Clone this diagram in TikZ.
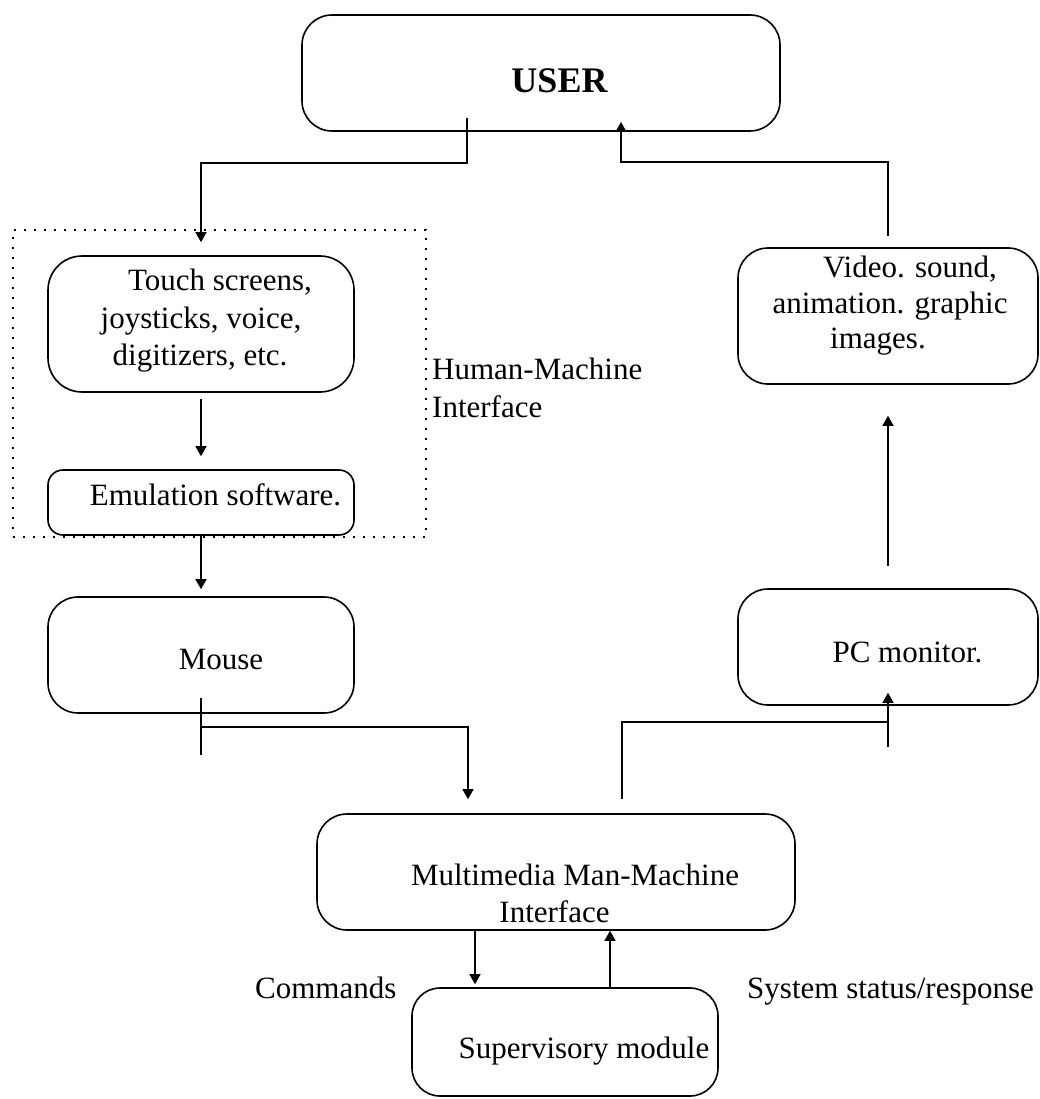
\documentclass[tikz,border=0pt]{standalone}
\usepackage{fontspec}
\setmainfont{Liberation Serif}
\usetikzlibrary{arrows.meta}
\begin{document}
\begin{tikzpicture}[x=1pt,y=-1pt,
  box/.style n args={3}{draw, line width=1.6pt, rounded corners=#3, minimum width=#1, minimum height=#2, inner sep=0pt},
  txt/.style={font=\fontsize{31}{37}\selectfont, inner sep=0pt, anchor=base},
  ltxt/.style={font=\fontsize{31}{37}\selectfont, inner sep=0pt, anchor=base west},
  line/.style={line width=1.3pt},
  conn/.style={line width=1.3pt, -{Triangle[width=11pt,length=10pt]}},
  hmibox/.style={draw, line width=1.6pt, dash pattern=on 1.6pt off 8.4pt, minimum width=413pt, minimum height=307pt, inner sep=0pt}
]
\fill[white] (0,0) rectangle (1039,1099);
\useasboundingbox (0,0) rectangle (1039,1099);

% dotted human-machine interface frame
\node[hmibox] (hmi) at (219.5,383.5) {};

% boxes
\node[box={478pt}{116pt}{30pt}] (user)  at (541,73) {};
\node[box={306pt}{136pt}{34pt}] (touch) at (201,324) {};
\node[box={306pt}{65pt}{15pt}]  (emul)  at (201,502.5) {};
\node[box={306pt}{116pt}{30pt}] (mouse) at (201,655) {};
\node[box={300pt}{136pt}{30pt}] (video) at (888,316) {};
\node[box={300pt}{116pt}{30pt}] (pc)    at (888,647) {};
\node[box={478pt}{116pt}{30pt}] (mm)    at (556,872) {};
\node[box={306pt}{108pt}{28pt}] (sup)   at (565,1042) {};

% texts
\node[txt, font=\fontsize{36}{40}\selectfont\bfseries] (userT) at (559.5,93) {USER};
\node[txt] (touchT1) at (220,290) {Touch screens,};
\node[txt] (touchT2) at (201,328) {joysticks, voice,};
\node[txt] (touchT3) at (200,365) {digitizers, etc.};
\node[txt] (emulT) at (215.5,505) {Emulation software.};
\node[txt] (mouseT) at (221,669) {Mouse};
\node[txt] (videoT1) at (910,277) {Video. sound,};
\node[txt] (videoT2) at (890,313) {animation. graphic};
\node[txt] (videoT3) at (878,348) {images.};
\node[ltxt] (hmiT1) at (432,379) {Human-Machine};
\node[ltxt] (hmiT2) at (432,417) {Interface};
\node[txt] (pcT) at (907.5,662) {PC monitor.};
\node[txt] (mmT1) at (575,885) {Multimedia Man-Machine};
\node[txt] (mmT2) at (554.5,922) {Interface};
\node[ltxt] (cmdT) at (255,998) {Commands};
\node[ltxt] (stsT) at (747,998) {System status/response};
\node[txt] (supT) at (584,1058) {Supervisory module};

% helper coordinates
\coordinate (u1) at (467,118);
\coordinate (uin) at (621,122);
\coordinate (m1) at (201,698);
\coordinate (m2) at (201,755);
\coordinate (mmx) at (468,0);
\coordinate (mmo) at (622,799);
\coordinate (cmd) at (475,0);
\coordinate (sts) at (610,0);

% connectors
\draw[conn] (u1) -- (467,163) -| ([yshift=13pt]touch.north);
\draw[conn] ([yshift=-6pt]touch.south) -- ([yshift=13pt]emul.north);
\draw[conn] (emul.south) -- ([yshift=7pt]mouse.north);
\draw[line] (m1) -- (m2);
\draw[conn, shorten >=14pt] (201,727) -| (mm.north -| mmx);
\draw[line] (mmo) |- (888,722);
\draw[conn] (888,747) -- ([yshift=13pt]pc.south);
\draw[conn] ([yshift=22pt]pc.north) -- ([yshift=-31pt]video.south);
\draw[conn] ([yshift=11pt]video.north) |- (621,162) -- (uin);
\draw[conn, shorten >=3pt] (mm.south -| cmd) -- (sup.north -| cmd);
\draw[conn] (sup.north -| sts) -- (mm.south -| sts);
\end{tikzpicture}
\end{document}
